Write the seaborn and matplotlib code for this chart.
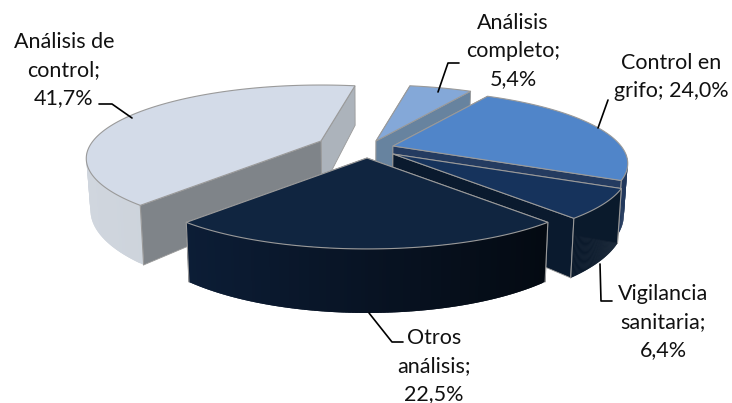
import matplotlib
matplotlib.use("Agg")
import matplotlib.pyplot as plt
import matplotlib.colors as mcolors
import numpy as np
import seaborn as sns

categories = ["Análisis\ncompleto", "Control en\ngrifo", "Vigilancia\nsanitaria", "Otros\nanálisis", "Análisis de\ncontrol"]
values = [5.4, 24.0, 6.4, 22.5, 41.7]

# pie look: projection of a tilted disc, pixel units
RX, RY, PERSP = 228, 69.3, 0.238
DEPTH = 48.8
VANISH_X, VANISH_SCALE = 365, 0.985
START_ANGLE = -79.4

tips = [(376, 141), (393, 146), (393, 154), (367, 158), (321, 141)]
top_colors = ["#84a8d8", "#5085c9", "#16335c", "#102540", "#d3dbe8"]
start_face_colors = ["#5f7a9c", "#243b60", "#0a1a2e", "#0a1a2e", "#7f8489"]
end_face_colors = ["#67839f", "#243b60", "#0a1a2e", "#0a1a2e", "#acb3bb"]
wall_colors = [("#5f7a9c", "#5f7a9c"), ("#22385c", "#22385c"), ("#0b1a2c", "#0b1a2c"),
               ("#040a12", "#0c1d36"), ("#c3cad3", "#d0d6de")]
draw_order = [0, 4, 1, 2, 3]
EDGE = "#9a9a9a"

label_pos = [(513, 51), (671, 77), (663, 322), (434, 366), (64, 70)]
leaders = [[(438, 92), (448, 63), (459, 63)],
           [(598, 128), (608, 100)],
           [(600, 264), (601, 301), (612, 301)],
           [(369, 313), (392, 342), (403, 342)],
           [(99, 104), (112, 104), (132, 118)]]


def project(phi, tip):
    x0, y0 = tip
    s = 1 / (1 - PERSP * np.sin(phi))
    return x0 + RX * np.cos(phi) * s, y0 + RY * np.sin(phi) * s, s


def drop(x, y, s):
    return VANISH_X + (x - VANISH_X) * VANISH_SCALE, y + DEPTH * s


def draw_slice(ax, tip, phi0, phi1, top, face_a, face_b, wall):
    phis = np.radians(np.linspace(phi0, phi1, 120))
    xs, ys, ss = project(phis, tip)
    bx, by = drop(xs, ys, ss)
    tip_b = drop(tip[0], tip[1], 1)

    # cut faces, the one further back goes first
    faces = [(0, face_a), (-1, face_b)]
    faces.sort(key=lambda f: ys[f[0]])
    for idx, col in faces:
        ax.fill([tip[0], xs[idx], bx[idx], tip_b[0]], [tip[1], ys[idx], by[idx], tip_b[1]],
                facecolor=col, edgecolor=EDGE, lw=0.6, zorder=2)

    # outer wall, only the part facing us, shaded left to right
    # quads overlap by one step so no seams show between them
    c0, c1 = (np.array(mcolors.to_rgb(c)) for c in wall)
    xmin, xmax = xs.min(), xs.max()
    for i in range(len(phis) - 1):
        if np.sin(phis[i]) < 0.1 and np.sin(phis[i + 1]) < 0.1:
            continue
        j = min(i + 2, len(phis) - 1)
        f = (xs[i] - xmin) / max(xmax - xmin, 1)
        col = c0 * f + c1 * (1 - f)
        ax.fill([xs[i], xs[j], bx[j], bx[i]], [ys[i], ys[j], by[j], by[i]],
                facecolor=col, edgecolor="none", zorder=2)

    # grey line down the corners that face us
    for idx in (0, -1):
        if np.sin(phis[idx]) > 0.1:
            ax.plot([xs[idx], bx[idx]], [ys[idx], by[idx]], color=EDGE, lw=0.8, zorder=2)

    ax.fill(np.r_[tip[0], xs], np.r_[tip[1], ys], facecolor=top, edgecolor=EDGE, lw=0.8, zorder=2)


sns.set_theme(style="white")
plt.rcParams["font.family"] = ["Lato", "DejaVu Sans"]

fig, ax = plt.subplots(figsize=(7.32, 4.03), dpi=100)
fig.subplots_adjust(0, 0, 1, 1)
ax.set_xlim(0, 732)
ax.set_ylim(403, 0)
ax.axis("off")

angles = START_ANGLE + np.r_[0, np.cumsum(values)] / sum(values) * 360
for i in draw_order:
    draw_slice(ax, tips[i], angles[i], angles[i + 1], top_colors[i],
               start_face_colors[i], end_face_colors[i], wall_colors[i])

for cat, val, pos, line in zip(categories, values, label_pos, leaders):
    txt = f"{cat}; {val:.1f}%".replace(".", ",")
    if cat != "Control en\ngrifo":
        txt = f"{cat};\n{val:.1f}%".replace(".", ",")
    ax.text(pos[0], pos[1], txt, ha="center", va="center", fontsize=15.5, color="#111111",
            linespacing=1.5, zorder=5)
    lx, ly = zip(*line)
    ax.plot(lx, ly, color="black", lw=1.2, zorder=4)

fig.savefig("out.png", dpi=100)
